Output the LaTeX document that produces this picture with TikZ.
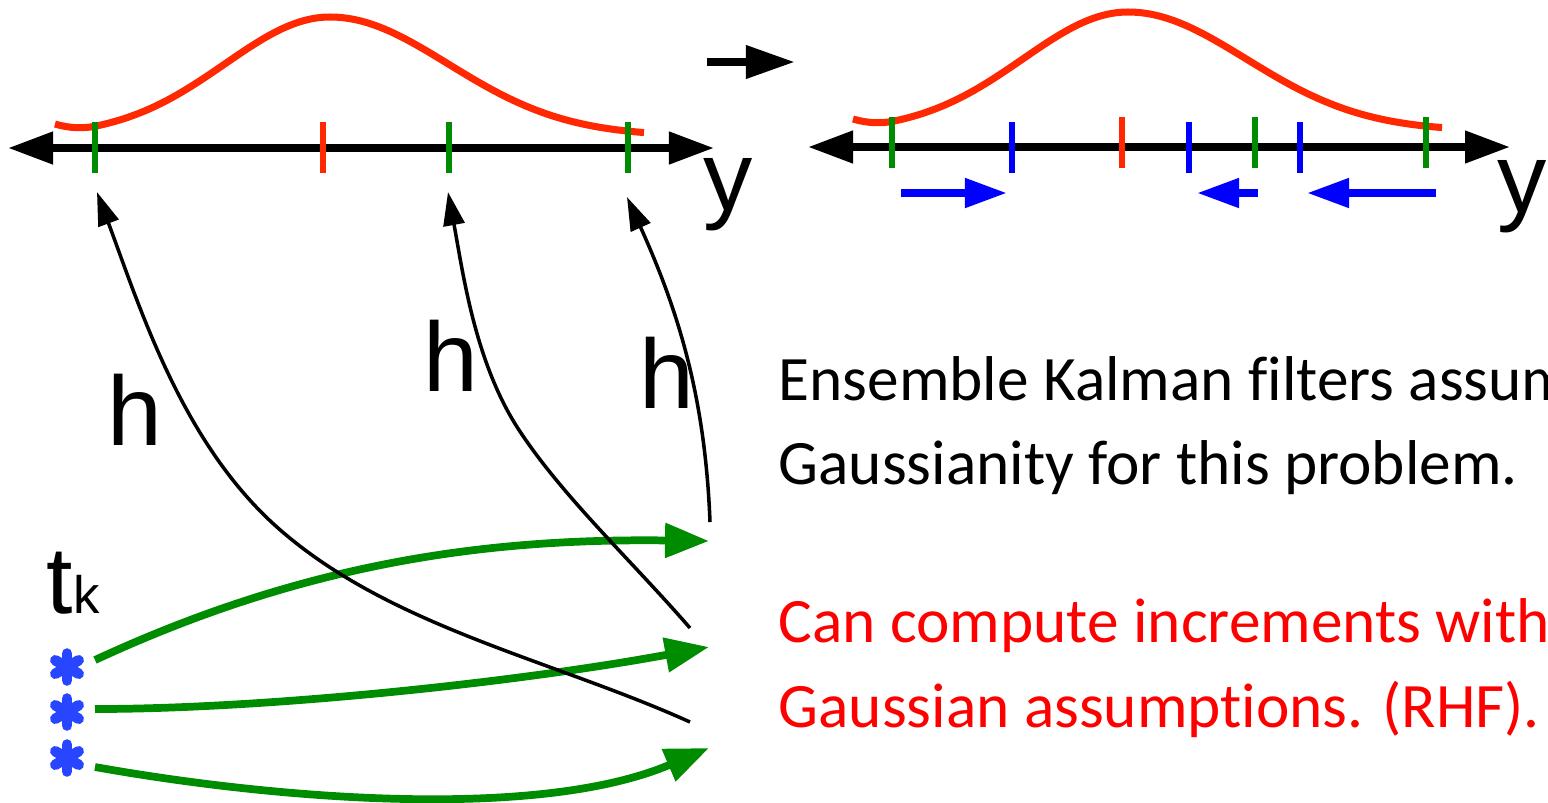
\documentclass[tikz,border=0pt]{standalone}
\usepackage{fontspec}
\setmainfont{Carlito}[Ligatures={NoCommon}]
\newfontfamily\arialf{Liberation Sans}
\usetikzlibrary{arrows.meta}
\definecolor{cred}{RGB}{255,40,0}
\definecolor{cgreen}{RGB}{0,140,0}
\definecolor{cblue}{RGB}{0,0,255}
\definecolor{castblue}{RGB}{40,70,255}
\definecolor{tred}{RGB}{255,0,0}
\tikzset{
  axisline/.style={black, line width=2.2pt, {Triangle[length=12.8pt,width=8.8pt]}-{Triangle[length=12.8pt,width=8.8pt]}},
  tickg/.style={cgreen, line width=1.7pt},
  tickr/.style={cred, line width=1.7pt},
  tickb/.style={cblue, line width=1.7pt},
  gausscurve/.style={cred, line width=2pt},
  bluearrow/.style={cblue, line width=2.2pt, -{Triangle[length=12pt,width=8pt]}},
  greenarrow/.style={cgreen, line width=2.2pt, -{Triangle[length=12.5pt,width=9.5pt]}},
  harrow/.style={black, line width=1pt, -{Triangle[length=9.5pt,width=6pt]}},
  bigarrow/.style={black, line width=2.4pt, -{Triangle[length=14pt,width=9pt]}},
  lbl/.style={font=\arialf\fontsize{28}{28}\selectfont, inner sep=0pt, anchor=base west},
  txt/.style={font=\fontsize{18}{22}\selectfont, inner sep=0pt, anchor=base west},
  astspoke/.style={castblue, line width=3pt, line cap=round},
}
\newcommand{\gaussline}{%
  (55,124) .. controls (70,128.5) and (84,128.5) .. (95,126.2)
  -- plot[domain=95:330, samples=60] (\x, {136-119*exp(-0.5*((\x-330)/105)^2)})
  -- plot[domain=330:644, samples=70] (\x, {136-119*exp(-0.5*((\x-330)/118)^2)})}
\begin{document}
\begin{tikzpicture}[x=0.01cm, y=-0.01cm]
\useasboundingbox (0,0) rectangle (1548,802);
\clip (0,0) rectangle (1548,802);

% ---------- left panel ----------
\draw[gausscurve] \gaussline;
\coordinate (axL1) at (8,148);
\coordinate (axL2) at (714,148);
\draw[axisline] (axL1) -- (axL2);
\draw[tickg] (95,122) -- (95,173);
\draw[tickr] (323,122) -- (323,173);
\draw[tickg] (449,122) -- (449,173);
\draw[tickg] (628,122) -- (628,173);
\node[lbl] (yL) at (703,210) {y};

% ---------- middle arrow ----------
\coordinate (mA) at (707,62);
\coordinate (mB) at (795,62);
\draw[bigarrow] (mA) -- (mB);

% ---------- right panel ----------
\begin{scope}[shift={(798,-5)}]
\draw[gausscurve] \gaussline;
\end{scope}
\coordinate (axR1) at (808,147);
\coordinate (axR2) at (1510,147);
\draw[axisline] (axR1) -- (axR2);
\draw[tickg] (892,117) -- (892,168);
\draw[tickb] (1012,122) -- (1012,173);
\draw[tickr] (1122,117) -- (1122,168);
\draw[tickb] (1189,122) -- (1189,173);
\draw[tickg] (1255,117) -- (1255,168);
\draw[tickb] (1300,122) -- (1300,173);
\draw[tickg] (1426,117) -- (1426,168);
\node[lbl] (yR) at (1497,212) {y};
\coordinate (b1s) at (901,193); \coordinate (b1e) at (1007,193);
\coordinate (b2s) at (1258,193); \coordinate (b2e) at (1197,193);
\coordinate (b3s) at (1436,193); \coordinate (b3e) at (1307,193);
\draw[bluearrow] (b1s) -- (b1e);
\draw[bluearrow] (b2s) -- (b2e);
\draw[bluearrow] (b3s) -- (b3e);

% ---------- lower left ----------
\node[inner sep=0pt, anchor=base west] (tk) at (46,613) {\arialf\fontsize{27}{27}\selectfont t\fontsize{15}{15}\selectfont k};
\coordinate (a1) at (67,667);
\coordinate (a2) at (67,712);
\coordinate (a3) at (67,758);
\foreach \c in {a1,a2,a3} {
  \draw[astspoke] (\c) +(0,-13.5) -- +(0,13.5);
  \draw[astspoke] (\c) +(-11.7,-6.75) -- +(11.7,6.75);
  \draw[astspoke] (\c) +(-11.7,6.75) -- +(11.7,-6.75);
}

% green arrows
\coordinate (g1s) at (95,660); \coordinate (g1e) at (709,541);
\coordinate (g2s) at (95,709); \coordinate (g2e) at (709,647);
\coordinate (g3s) at (95,767); \coordinate (g3e) at (709,748);
\draw[greenarrow] (g1s) .. controls (300,565) and (480,538) .. (g1e);
\draw[greenarrow] (g2s) .. controls (265,709) and (513,683) .. (g2e);
\draw[greenarrow] (g3s) .. controls (280,800) and (540,820) .. (g3e);

% black h arrows
\coordinate (h1s) at (690,722); \coordinate (h1m) at (278,528); \coordinate (h1e) at (97,192);
\coordinate (h2s) at (690,628); \coordinate (h2m) at (519,430); \coordinate (h2e) at (448,192);
\coordinate (h3s) at (710,522); \coordinate (h3e) at (627,197);
\draw[harrow] (h1s) .. controls (553,660) and (390,627) .. (h1m) .. controls (183,444) and (141,311) .. (h1e);
\draw[harrow] (h2s) .. controls (631,560) and (563,497) .. (h2m) .. controls (475,363) and (463,273) .. (h2e);
\draw[harrow] (h3s) .. controls (705,392) and (676,306) .. (h3e);
\node[lbl] (hL) at (107,445) {h};
\node[lbl] (hM) at (423,391) {h};
\node[lbl] (hR) at (639,408) {h};

% ---------- text ----------
\node[txt] (t1) at (778,400) {Ensemble Kalman filters assume};
\node[txt] (t2) at (778,484) {Gaussianity for this problem.};
\node[txt, text=tred] (t3) at (778,642) {Can compute increments with};
\node[txt, text=tred] (t4) at (778,727) {Gaussian assumptions. (RHF).};
\end{tikzpicture}
\end{document}
